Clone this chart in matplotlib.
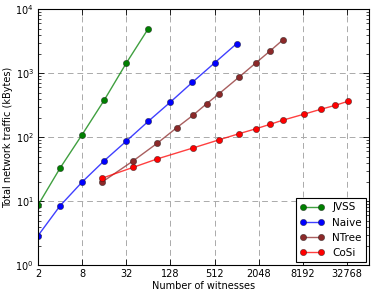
import numpy as np
import matplotlib
matplotlib.use('Agg')
import matplotlib.pyplot as plt
from matplotlib.ticker import FixedLocator, FixedFormatter, LogLocator, NullFormatter

# witnesses / traffic (kBytes)
jvss_n = [2, 4, 8, 16, 32, 64]
jvss_kb = [8.7, 33, 110, 380, 1440, 5000]

naive_n = [2, 4, 8, 16, 32, 64, 128, 256, 512, 1024]
naive_kb = [2.9, 8.5, 20, 43, 87, 178, 355, 725, 1450, 2900]

# trees of depth 3: 1 + b + b^2 + b^3
ntree_n = [15, 40, 85, 156, 259, 400, 585, 1111, 1885, 2955, 4369]
ntree_kb = [20, 43, 81, 141, 220, 335, 475, 876, 1460, 2250, 3320]

cosi_n = [15, 40, 85, 259, 585, 1111, 1885, 2955, 4369, 8421, 14425, 22765, 33825]
cosi_kb = [23, 34, 46, 68, 91, 114, 136, 160, 185, 229, 274, 316, 365]

xticks = [2, 8, 32, 128, 512, 2048, 8192, 32768]

plt.rcParams['font.family'] = 'DejaVu Sans'
plt.rcParams['font.size'] = 7

fig = plt.figure(figsize=(3.74, 2.95), dpi=100)
ax = fig.add_axes([0.1016, 0.1007, 0.885, 0.8678])

series = [
    ('JVSS', jvss_n, jvss_kb, (0.0, 0.5, 0.0)),
    ('Naive', naive_n, naive_kb, (0.0, 0.0, 1.0)),
    ('NTree', ntree_n, ntree_kb, (0.55, 0.16, 0.16)),
    ('CoSi', cosi_n, cosi_kb, (1.0, 0.0, 0.0)),
]
for name, xs, ys, c in series:
    ax.plot(xs, ys, color=c + (0.75,), lw=1.0, marker='o', ms=4.5,
            mfc=c, mec=(0.1, 0.1, 0.1, 0.6), mew=0.5, label=name)

ax.set_xscale('log', base=2)
ax.set_yscale('log')
ax.set_xlim(2, 65536)
ax.set_ylim(1, 1e4)

ax.xaxis.set_major_locator(FixedLocator(xticks))
ax.xaxis.set_major_formatter(FixedFormatter([str(t) for t in xticks]))
ax.xaxis.set_minor_locator(FixedLocator([]))
ax.yaxis.set_minor_locator(LogLocator(base=10, subs=np.arange(2, 10)))
ax.yaxis.set_minor_formatter(NullFormatter())

ax.tick_params(which='both', direction='in', top=True, right=True)
ax.tick_params(which='major', length=4, width=0.6, pad=3)
ax.tick_params(which='minor', length=2, width=0.5)
for s in ax.spines.values():
    s.set_linewidth(0.8)

ax.grid(True, which='major', ls=(0, (6, 4)), color='#aaaaaa', lw=0.7)

ax.set_xlabel('Number of witnesses', labelpad=1)
ax.set_ylabel('Total network traffic (kBytes)', labelpad=2)

leg = ax.legend(loc='lower right', numpoints=2, fancybox=False, framealpha=1,
                edgecolor='black', fontsize=7.5, borderaxespad=0.3,
                handlelength=2.3, labelspacing=0.5)
leg.get_frame().set_linewidth(0.8)

fig.savefig('out.png', dpi=100)
